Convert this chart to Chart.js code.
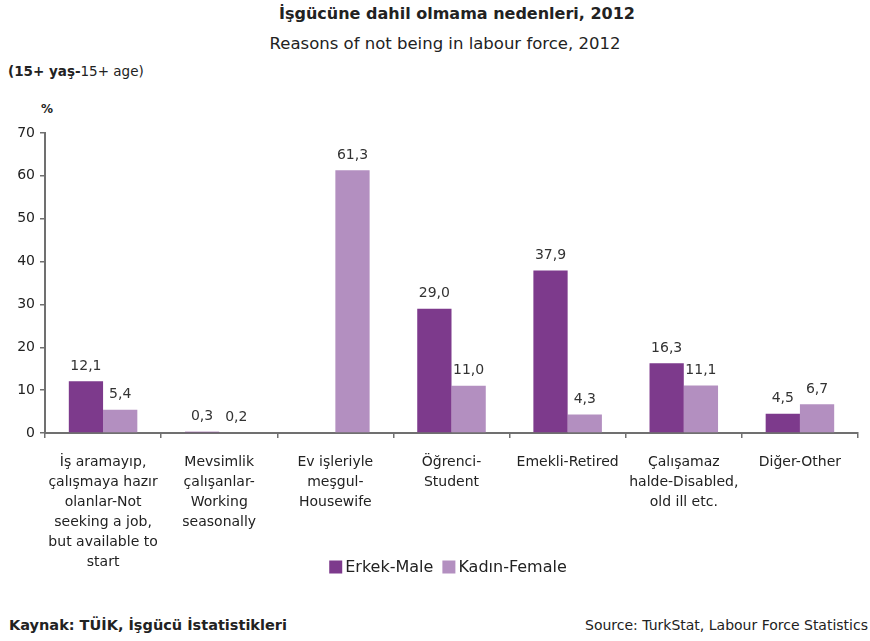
<!DOCTYPE html>
<html>
<head>
<meta charset="utf-8">
<script src="https://cdn.jsdelivr.net/npm/chart.js@4/dist/chart.umd.min.js"></script>
<style>
  body { margin: 0; width: 870px; height: 641px; background: #fff; position: relative; overflow: hidden;
         font-family: "DejaVu Sans", sans-serif; color: #222; }
  .txt { position: absolute; white-space: nowrap; }
  #title { top: 4px; left: 0; width: 914px; text-align: center; font-weight: bold; font-size: 16px; }
  #subtitle { top: 34px; left: 0; width: 890px; text-align: center; font-size: 16.5px; }
  #age { top: 63px; left: 8px; font-size: 13.5px; }
  #pct { top: 102px; left: 41px; font-size: 12px; font-weight: bold; }
  #srcTr { top: 617px; left: 9px; font-size: 14.5px; font-weight: bold; }
  #srcEn { top: 617px; right: 2px; font-size: 14px; }
  #wrap { position: absolute; left: 0; top: 0; width: 870px; height: 641px; }
</style>
</head>
<body>
<div class="txt" id="title">İşgücüne dahil olmama nedenleri, 2012</div>
<div class="txt" id="subtitle">Reasons of not being in labour force, 2012</div>
<div class="txt" id="age"><b>(15+ yaş-</b>15+ age)</div>
<div class="txt" id="pct">%</div>
<div class="txt" id="srcTr">Kaynak: TÜİK, İşgücü İstatistikleri</div>
<div class="txt" id="srcEn">Source: TurkStat, Labour Force Statistics</div>
<div id="wrap"><canvas id="chart" width="870" height="641"></canvas></div>
<script>
const categories = [
  ["İş aramayıp,", "çalışmaya hazır", "olanlar-Not", "seeking a job,", "but available to", "start"],
  ["Mevsimlik", "çalışanlar-", "Working", "seasonally"],
  ["Ev işleriyle", "meşgul-", "Housewife"],
  ["Öğrenci-", "Student"],
  ["Emekli-Retired"],
  ["Çalışamaz", "halde-Disabled,", "old ill etc."],
  ["Diğer-Other"]
];
const maleValues = [12.1, 0.3, null, 29.0, 37.9, 16.3, 4.5];
const femaleValues = [5.4, 0.2, 61.3, 11.0, 4.3, 11.1, 6.7];
const yTicks = [0, 10, 20, 30, 40, 50, 60, 70];

const fontFamily = '"DejaVu Sans", sans-serif';
const axisColor = "#707070";

Chart.defaults.font.family = fontFamily;
Chart.defaults.color = "#222";

// value labels above each bar, with comma decimals
const valueLabels = {
  id: "valueLabels",
  afterDatasetsDraw(chart) {
    const ctx = chart.ctx;
    ctx.save();
    ctx.font = "14px " + fontFamily;
    ctx.fillStyle = "#333";
    ctx.textAlign = "center";
    ctx.textBaseline = "bottom";
    chart.data.datasets.forEach((ds, i) => {
      chart.getDatasetMeta(i).data.forEach((bar, j) => {
        const v = ds.data[j];
        if (v === null) return;
        ctx.fillText(v.toFixed(1).replace(".", ","), bar.x, bar.y - 8);
      });
    });
    ctx.restore();
  }
};

// legend sits beside the long first x label, so it is drawn here
const bottomLegend = {
  id: "bottomLegend",
  afterDraw(chart) {
    const ctx = chart.ctx;
    ctx.save();
    ctx.font = "16px " + fontFamily;
    ctx.textBaseline = "middle";
    const box = 13, gap = 3, spacing = 9, y = 567;
    const items = chart.data.datasets.map((ds) => ({ text: ds.label, color: ds.backgroundColor }));
    const total = items.reduce((w, it) => w + box + gap + ctx.measureText(it.text).width, 0) + spacing * (items.length - 1);
    let x = 448 - total / 2;
    items.forEach((it) => {
      ctx.fillStyle = it.color;
      ctx.fillRect(x, y - box / 2, box, box);
      x += box + gap;
      ctx.fillStyle = "#222";
      ctx.fillText(it.text, x, y + 1);
      x += ctx.measureText(it.text).width + spacing;
    });
    ctx.restore();
  }
};

new Chart(document.getElementById("chart"), {
  type: "bar",
  data: {
    labels: categories,
    datasets: [
      { label: "Erkek-Male", data: maleValues, backgroundColor: "#7d3a8c",
        categoryPercentage: 0.59, barPercentage: 1 },
      { label: "Kadın-Female", data: femaleValues, backgroundColor: "#b38fc0",
        categoryPercentage: 0.59, barPercentage: 1 }
    ]
  },
  options: {
    responsive: false,
    animation: false,
    layout: { padding: { top: 133, right: 12, bottom: 58, left: 0 } },
    plugins: {
      title: { display: false },
      tooltip: { enabled: false },
      legend: { display: false }
    },
    scales: {
      x: {
        afterFit: (s) => { s.height = 150; },
        grid: { offset: true, drawOnChartArea: false, drawTicks: true, tickLength: 5, color: axisColor, lineWidth: 1.5 },
        border: { color: axisColor, width: 2 },
        ticks: { font: { size: 14, lineHeight: 1.43 }, color: "#222", padding: 14, maxRotation: 0, autoSkip: false }
      },
      y: {
        min: 0,
        max: 70,
        afterFit: (s) => { s.width = 45; },
        afterBuildTicks: (s) => { s.ticks = yTicks.map((v) => ({ value: v })); },
        grid: { drawOnChartArea: false, drawTicks: true, tickLength: 5, color: axisColor, lineWidth: 1.5 },
        border: { color: axisColor, width: 2 },
        ticks: { font: { size: 14 }, color: "#222", padding: 5 }
      }
    }
  },
  plugins: [valueLabels, bottomLegend]
});
</script>
</body>
</html>
